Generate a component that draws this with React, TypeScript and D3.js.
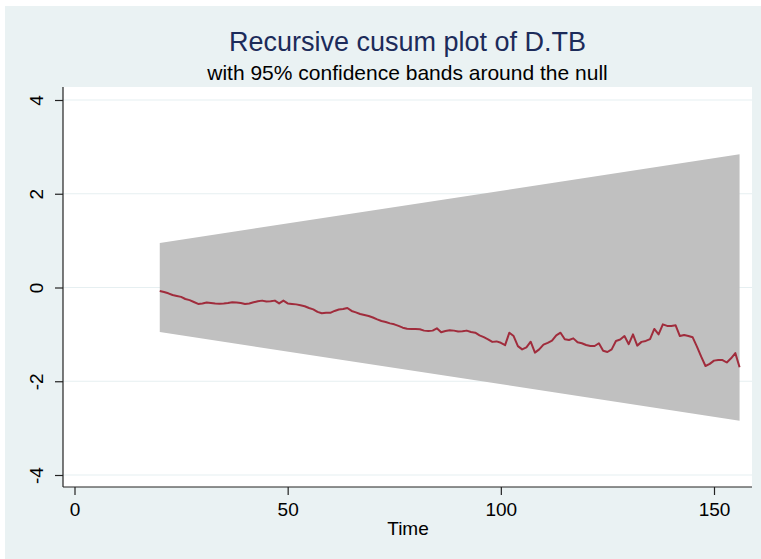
import React, { useEffect, useRef } from "react";
import * as d3 from "d3";

// Recursive cusum of D.TB, one value per period from t = 20 to t = 156
const startTime = 20;
const endTime = 156;
const cusum = [
  -0.075, -0.096, -0.124, -0.16, -0.18, -0.2, -0.245, -0.27, -0.31, -0.35,
  -0.34, -0.32, -0.33, -0.34, -0.345, -0.34, -0.33, -0.316, -0.32, -0.33,
  -0.35, -0.34, -0.316, -0.295, -0.28, -0.3, -0.295, -0.28, -0.34, -0.28,
  -0.34, -0.35, -0.36, -0.38, -0.4, -0.437, -0.466, -0.52, -0.55, -0.54,
  -0.54, -0.5, -0.47, -0.46, -0.437, -0.5, -0.53, -0.565, -0.587, -0.608,
  -0.64, -0.68, -0.715, -0.736, -0.765, -0.786, -0.82, -0.857, -0.88, -0.885,
  -0.885, -0.89, -0.92, -0.928, -0.92, -0.87, -0.956, -0.928, -0.91, -0.92,
  -0.94, -0.935, -0.92, -0.95, -0.964, -1.02, -1.06, -1.105, -1.16, -1.15,
  -1.18, -1.23, -0.964, -1.035, -1.25, -1.32, -1.276, -1.156, -1.39, -1.32,
  -1.22, -1.18, -1.135, -1.02, -0.964, -1.105, -1.12, -1.085, -1.17, -1.19,
  -1.227, -1.248, -1.248, -1.19, -1.35, -1.376, -1.32, -1.14, -1.11, -1.035,
  -1.21, -1.0, -1.24, -1.16, -1.14, -1.1, -0.885, -1.0, -0.786, -0.82,
  -0.82, -0.807, -1.035, -1.013, -1.035, -1.063, -1.26, -1.475, -1.675, -1.63,
  -1.56, -1.547, -1.547, -1.6, -1.51, -1.4, -1.7,
];
// 95% band half-width at the first and last period
const bandStart = 0.948;
const bandEnd = 2.844;

const xTicks = [0, 50, 100, 150];
const yTicks = [-4, -2, 0, 2, 4];

const title = "Recursive cusum plot of D.TB";
const subtitle = "with 95% confidence bands around the null";
const xTitle = "Time";

const App = () => {
  const chartRef = useRef<SVGSVGElement>(null);

  useEffect(() => {
    const width = 761;
    const height = 559;
    const plot = { left: 63, right: 752, top: 87, bottom: 487 };
    const font = "'Liberation Sans', Arial, sans-serif";

    const svg = d3.select(chartRef.current);
    svg.selectAll("*").remove();

    // Outer background
    svg.append("rect").attr("width", width).attr("height", height).attr("fill", "#ffffff");
    svg
      .append("rect")
      .attr("x", 5)
      .attr("y", 6)
      .attr("width", width - 5)
      .attr("height", height - 6)
      .attr("fill", "#eaf2f3");

    // Plot region
    svg
      .append("rect")
      .attr("x", plot.left)
      .attr("y", plot.top)
      .attr("width", plot.right - plot.left)
      .attr("height", plot.bottom - plot.top)
      .attr("fill", "#ffffff");

    const xScale = d3.scaleLinear().domain([0, 150]).range([74.5, 714]);
    const yScale = d3.scaleLinear().domain([-4, 4]).range([475, 100]);

    // Gridlines
    svg
      .append("g")
      .selectAll("line")
      .data(yTicks)
      .enter()
      .append("line")
      .attr("x1", plot.left)
      .attr("x2", plot.right)
      .attr("y1", (d) => yScale(d))
      .attr("y2", (d) => yScale(d))
      .attr("stroke", "#e6eff1")
      .attr("stroke-width", 1.2);

    // Confidence band
    const band = [
      [startTime, bandStart],
      [endTime, bandEnd],
    ];
    const area = d3
      .area<number[]>()
      .x((d) => xScale(d[0]))
      .y0((d) => yScale(-d[1]))
      .y1((d) => yScale(d[1]));
    svg.append("path").datum(band).attr("d", area).attr("fill", "#c0c0c0");

    // Cusum line
    const line = d3
      .line<number>()
      .x((d, i) => xScale(startTime + i))
      .y((d) => yScale(d));
    svg
      .append("path")
      .datum(cusum)
      .attr("d", line)
      .attr("fill", "none")
      .attr("stroke", "#a02c3c")
      .attr("stroke-width", 2)
      .attr("stroke-linejoin", "round");

    // Y axis (plain hyphen for negatives, as in the original)
    const yAxis = svg
      .append("g")
      .attr("transform", `translate(${plot.left},0)`)
      .call(
        d3
          .axisLeft(yScale)
          .tickValues(yTicks)
          .tickSize(8)
          .tickFormat((d) => String(d))
      );
    yAxis.select(".domain").attr("d", `M0,${plot.top}V${plot.bottom}`);
    yAxis
      .selectAll(".tick text")
      .attr("transform", "rotate(-90)")
      .attr("x", 0)
      .attr("y", -20)
      .attr("dy", "0")
      .style("text-anchor", "middle");

    // X axis
    const xAxis = svg
      .append("g")
      .attr("transform", `translate(0,${plot.bottom})`)
      .call(d3.axisBottom(xScale).tickValues(xTicks).tickSize(8).tickPadding(8));
    xAxis.select(".domain").attr("d", `M${plot.left},0H${plot.right}`);

    svg
      .selectAll(".tick text")
      .attr("font-family", font)
      .attr("font-size", 19)
      .attr("fill", "#000");
    svg.selectAll(".domain, .tick line").attr("stroke", "#222").attr("stroke-width", 1.2);

    // Titles
    const cx = (plot.left + plot.right) / 2;
    svg
      .append("text")
      .attr("x", cx)
      .attr("y", 51)
      .attr("text-anchor", "middle")
      .attr("font-family", font)
      .attr("font-size", 27)
      .attr("fill", "#1c2b5a")
      .text(title);
    svg
      .append("text")
      .attr("x", cx)
      .attr("y", 80)
      .attr("text-anchor", "middle")
      .attr("font-family", font)
      .attr("font-size", 21)
      .attr("fill", "#000")
      .text(subtitle);
    svg
      .append("text")
      .attr("x", 408)
      .attr("y", 535)
      .attr("text-anchor", "middle")
      .attr("font-family", font)
      .attr("font-size", 19)
      .attr("fill", "#000")
      .text(xTitle);
  }, []);

  return (
    <svg
      ref={chartRef}
      width={761}
      height={559}
      style={{ position: "absolute", left: 0, top: 0, display: "block" }}
    />
  );
};

export default App;
